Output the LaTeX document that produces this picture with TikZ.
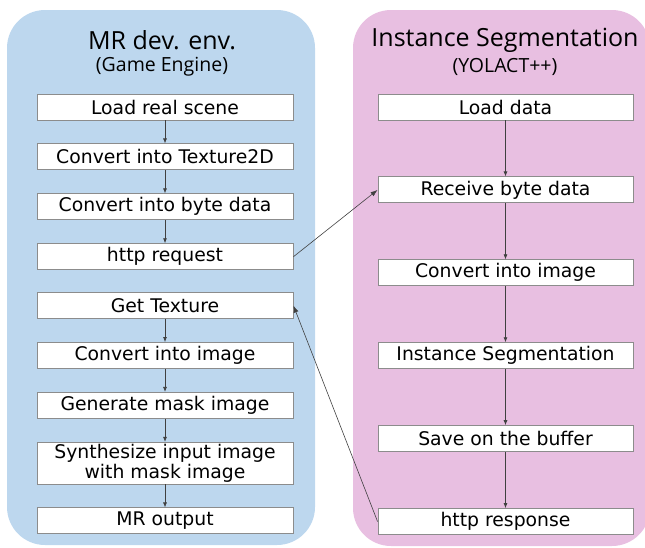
\documentclass[tikz,border=0pt]{standalone}
\usepackage{fontspec}
\usepackage{tikz}
\usetikzlibrary{arrows.meta, positioning}
\newfontfamily\boxfont{DejaVu Sans}
\newfontfamily\titlefont{Open Sans}
\definecolor{paneblue}{HTML}{BDD7EE}
\definecolor{panepink}{HTML}{E8BFE1}
\definecolor{boxgray}{HTML}{8C8C8C}
\definecolor{linegray}{HTML}{404040}

\begin{document}
\begin{tikzpicture}[
  x=1pt, y=1pt,
  node distance=23pt,
  stepbox/.style={rectangle, draw=boxgray, fill=white, line width=0.9pt,
                  minimum width=256pt, minimum height=26pt, inner sep=1.5pt,
                  font=\boxfont\fontsize{18.8}{20.5}\selectfont, align=center},
  title/.style={font=\titlefont\fontsize{25}{28}\selectfont},
  subtitle/.style={font=\titlefont\fontsize{19.5}{22}\selectfont},
  arrow/.style={-{Latex[length=5pt,width=4pt]}, line width=0.7pt, color=linegray},
  crossarrow/.style={-{Latex[length=7pt,width=5pt]}, line width=0.6pt, color=linegray},
]
  \useasboundingbox (0,0) rectangle (645,-547);

  % Panels
  \fill[panepink, rounded corners=38pt] (353,-10) rectangle (650,-546);
  \fill[paneblue, rounded corners=38pt] (7,-10) rectangle (315,-545);

  % Titles
  \node[title]    (Ltitle) at (162,-40) {MR dev. env.};
  \node[subtitle] (Lsub)   at (162,-67) {(Game Engine)};
  \node[title]    (Rtitle) at (505,-40) {Instance Segmentation};
  \node[subtitle] (Rsub)   at (505,-67) {(YOLACT++)};

  % MR side
  \node[stepbox] (L1) at (165,-107)  {Load real scene};
  \node[stepbox, below=of L1] (L2) {Convert into Texture2D};
  \node[stepbox, below=of L2] (L3) {Convert into byte data};
  \node[stepbox, below=of L3] (L4) {http request};
  \node[stepbox, below=22pt of L4] (L5) {Get Texture};
  \node[stepbox, below=of L5] (L6) {Convert into image};
  \node[stepbox, below=of L6] (L7) {Generate mask image};
  \node[stepbox, below=of L7] (L8) {Synthesize input image\\with mask image};
  \node[stepbox, below=of L8] (L9) {MR output};

  % Segmentation side
  \node[stepbox, minimum width=255pt] (R1) at (505.5,-107) {Load data};
  \node[stepbox, minimum width=255pt, below=56pt of R1] (R2) {Receive byte data};
  \node[stepbox, minimum width=255pt, below=56pt of R2] (R3) {Convert into image};
  \node[stepbox, minimum width=255pt, below=56pt of R3] (R4) {Instance Segmentation};
  \node[stepbox, minimum width=255pt, below=56pt of R4] (R5) {Save on the buffer};
  \node[stepbox, minimum width=255pt, below=56pt of R5] (R6) {http response};

  % Flows
  \draw[arrow] (L1)--(L2);
  \draw[arrow] (L2)--(L3);
  \draw[arrow] (L3)--(L4);
  \draw[arrow] (L5)--(L6);
  \draw[arrow] (L6)--(L7);
  \draw[arrow] (L7)--(L8);
  \draw[arrow] (L8)--(L9);
  \draw[arrow] (R1)--(R2);
  \draw[arrow] (R2)--(R3);
  \draw[arrow] (R3)--(R4);
  \draw[arrow] (R4)--(R5);
  \draw[arrow] (R5)--(R6);

  % Request and response
  \draw[crossarrow] (L4.east)--(R2.west);
  \draw[crossarrow] (R6.west)--(L5.east);
\end{tikzpicture}
\end{document}
